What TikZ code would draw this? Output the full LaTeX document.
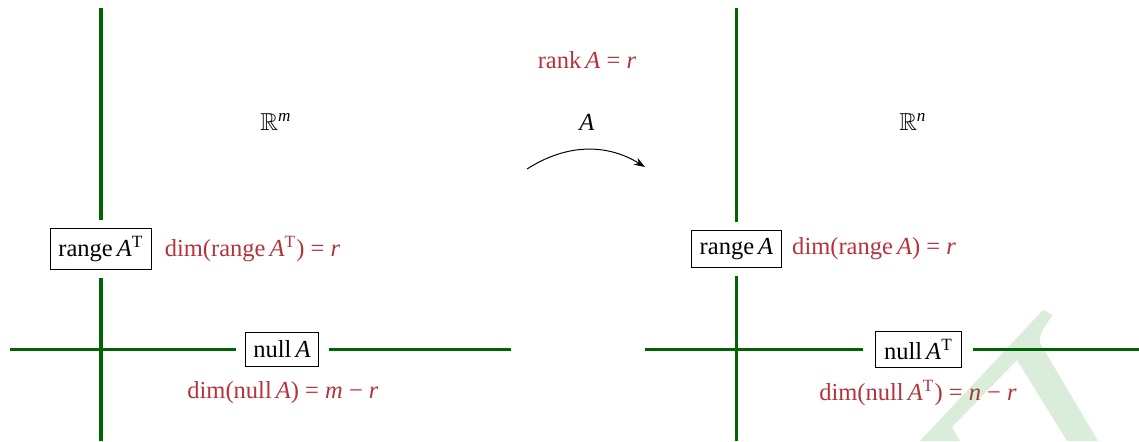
\documentclass[tikz,border=0pt]{standalone}
\usepackage{amssymb}
\usepackage{fontspec}
\setmainfont{Liberation Serif}
\usetikzlibrary{arrows.meta}
\definecolor{dimred}{RGB}{182,50,60}
\definecolor{axgreen}{RGB}{0,100,0}
\begin{document}
\begin{tikzpicture}[x=0.408pt,y=-0.408pt,
  axis/.style={axgreen,line width=1.6pt},
  subbox/.style={draw,inner sep=.3333em},
  lab/.style={text=dimred,inner sep=0pt}]
\useasboundingbox (0,0) rectangle (1139,441);
% ---------- left (R^m) ----------
\node[subbox] (rAT) at (101,249) {range\,\textit{A}\textsuperscript{T}};
\node[subbox] (nA) at (282,349.5) {null\,\textit{A}};
\coordinate (lt) at (101,8);
\coordinate (lb) at (101,441);
\coordinate (ll) at (10,349.5);
\coordinate (lr) at (511,349.5);
\draw[axis,shorten >=3.3pt] (lt) -- (rAT);
\draw[axis,shorten >=3.3pt] (lb) -- (rAT);
\draw[axis,shorten >=3.7pt] (ll) -- (nA);
\draw[axis,shorten >=4pt] (lr) -- (nA);
\node[lab,anchor=base west] (dAT) at ([xshift=4.9pt]rAT.base east) {dim(range\,\textit{A}\textsuperscript{T}) = \textit{r}};
\node[lab] (dnA) at (283,393) {dim(null\,\textit{A}) = \textit{m} − \textit{r}};
\node (Rm) at (276,122) {$\mathbb{R}$\textsuperscript{\itshape m}};
% ---------- middle ----------
\node[lab] (rk) at (587,60) {rank\,\textit{A} = \textit{r}};
\node (mA) at (587,122) {\textit{A}};
\coordinate (a1) at (527,169);
\coordinate (a2) at (645,167);
\draw[-{Stealth[length=4.5pt,width=3.2pt]}] (a1) .. controls (566,144) and (606,143) .. (a2);
% ---------- right (R^n) ----------
\node[subbox] (rA) at (736.5,249) {range\,\textit{A}};
\node[subbox] (nAT) at (918.5,349.5) {null\,\textit{A}\textsuperscript{T}};
\coordinate (rt) at (736.5,8);
\coordinate (rb) at (736.5,441);
\coordinate (rl) at (645,349.5);
\coordinate (rr) at (1139,349.5);
\draw[axis,shorten >=3.3pt] (rt) -- (rA);
\draw[axis,shorten >=3.3pt] (rb) -- (rA);
\draw[axis,shorten >=5pt] (rl) -- (nAT);
\draw[axis,shorten >=4.5pt] (rr) -- (nAT);
\node[lab,anchor=base west] (dA) at ([xshift=4pt]rA.base east) {dim(range\,\textit{A}) = \textit{r}};
\node[lab] (dnAT) at (918,393) {dim(null\,\textit{A}\textsuperscript{T}) = \textit{n} − \textit{r}};
\node (Rn) at (913,122) {$\mathbb{R}$\textsuperscript{\itshape n}};
% ---------- watermark ----------
\fill[green!50!black,opacity=.145] (1043,310) -- (1053,315)
  .. controls (1043,328) and (1039,335) .. (1040,343) -- (1098,441) -- (1067,441)
  -- (1017,360) -- (952,427) -- (960,441) -- (920,441) -- cycle;
\end{tikzpicture}
\end{document}
